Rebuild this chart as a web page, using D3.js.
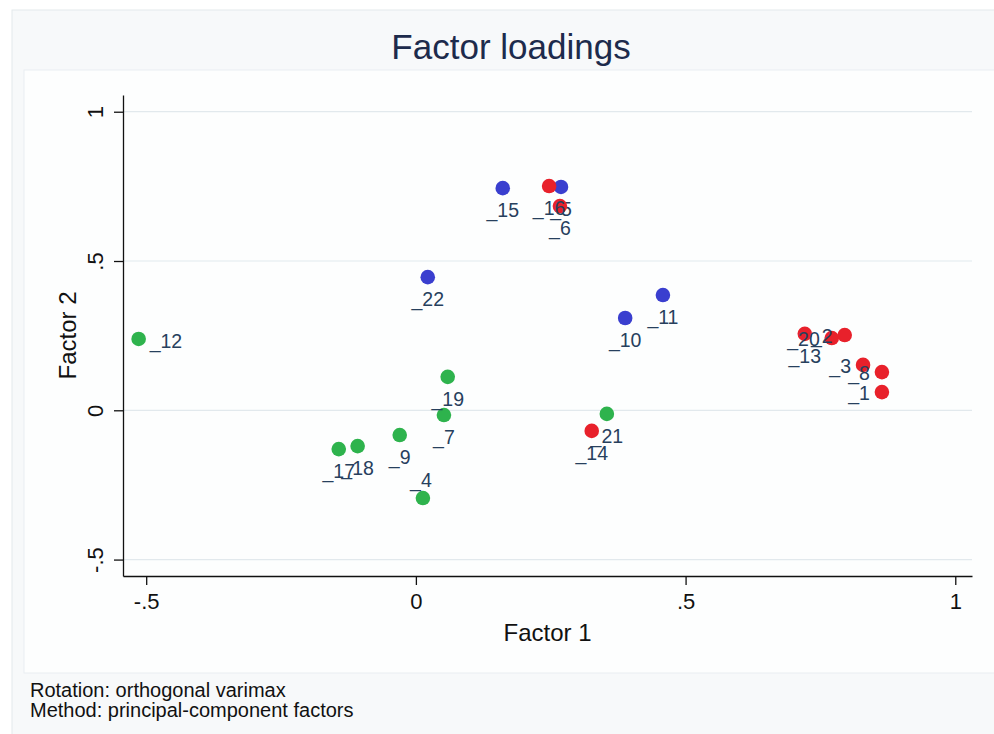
<!DOCTYPE html>
<html>
<head>
<meta charset="utf-8">
<script src="https://cdn.jsdelivr.net/npm/d3@7"></script>
<style>
  body { margin: 0; background: #ffffff; }
  svg { display: block; font-family: "Liberation Sans", Arial, Helvetica, sans-serif; }
</style>
</head>
<body>
<svg id="chart" width="994" height="734"></svg>
<script>
// Varimax-rotated loadings of the 22 items on the first two factors, by group
const blueNames = ["_15", "_5", "_22", "_10", "_11"];
const blueF1 = [0.161, 0.269, 0.022, 0.388, 0.458];
const blueF2 = [0.744, 0.748, 0.446, 0.309, 0.386];

const redNames = ["_16", "_6", "_14", "_13", "_20", "_2", "_3", "_8", "_1"];
const redF1 = [0.247, 0.267, 0.326, 0.721, 0.771, 0.795, 0.829, 0.864, 0.864];
const redF2 = [0.751, 0.684, -0.069, 0.256, 0.242, 0.252, 0.152, 0.128, 0.061];

const greenNames = ["_12", "_19", "_7", "_9", "_18", "_17", "_4", "_21"];
const greenF1 = [-0.514, 0.059, 0.052, -0.030, -0.108, -0.143, 0.013, 0.354];
const greenF2 = [0.239, 0.112, -0.016, -0.083, -0.120, -0.130, -0.294, -0.012];

// clock position of each marker label relative to its marker
const bluePos = [6, 6, 6, 6, 6];
const redPos = [6, 6, 6, 6, 9, 9, 9, 9, 9];
const greenPos = [3, 6, 6, 6, 6, 6, 12, 6];

const tickValues = [-0.5, 0, 0.5, 1];
const tickLabels = ["-.5", "0", ".5", "1"];

const series = [
  { names: blueNames, f1: blueF1, f2: blueF2, pos: bluePos, color: "#3a3fcf" },
  { names: redNames, f1: redF1, f2: redF2, pos: redPos, color: "#e8212b" },
  { names: greenNames, f1: greenF1, f2: greenF2, pos: greenPos, color: "#2eb34d" }
];

const svg = d3.select("#chart");

// graph region and plot region backgrounds
svg.append("rect").attr("x", 12).attr("y", 10).attr("width", 994).attr("height", 740)
  .attr("fill", "#f7f9fa").attr("stroke", "#e3e9ec").attr("stroke-width", 1);
svg.append("rect").attr("x", 24).attr("y", 70).attr("width", 980).attr("height", 603)
  .attr("fill", "#fdfefe").attr("stroke", "#e9eef1").attr("stroke-width", 1);

const x = d3.scaleLinear().domain([-0.543, 1.031]).range([123, 972]);
const y = d3.scaleLinear().domain([-0.555, 1.056]).range([576, 95]);

// horizontal grid lines at the y ticks
svg.append("g").selectAll("line").data(tickValues).join("line")
  .attr("x1", x.range()[0]).attr("x2", x.range()[1])
  .attr("y1", d => y(d)).attr("y2", d => y(d))
  .attr("stroke", "#e2e9ed").attr("stroke-width", 1.2);

// x axis
const xAxis = svg.append("g").attr("transform", `translate(0,${y.range()[0]})`)
  .call(d3.axisBottom(x).tickValues(tickValues).tickFormat((d, i) => tickLabels[i])
    .tickSizeInner(9).tickSizeOuter(0).tickPadding(8));
xAxis.attr("font-family", null);
xAxis.selectAll("text").attr("font-size", 22).attr("fill", "#111");
xAxis.selectAll("path, line").attr("stroke", "#111").attr("stroke-width", 1.3);

// y axis, labels turned to read upwards
const yAxis = svg.append("g").attr("transform", `translate(${x.range()[0]},0)`)
  .call(d3.axisLeft(y).tickValues(tickValues).tickFormat((d, i) => tickLabels[i])
    .tickSizeInner(9).tickSizeOuter(0));
yAxis.attr("font-family", null);
yAxis.selectAll("path, line").attr("stroke", "#111").attr("stroke-width", 1.3);
yAxis.selectAll("text")
  .attr("x", 0).attr("y", 0).attr("dy", "0.36em")
  .attr("text-anchor", "middle")
  .attr("transform", "translate(-28,0) rotate(-90)")
  .attr("font-size", 22).attr("fill", "#111");

// axis titles
svg.append("text").attr("x", (x.range()[0] + x.range()[1]) / 2).attr("y", 641)
  .attr("text-anchor", "middle").attr("font-size", 24).attr("fill", "#111").text("Factor 1");
svg.append("text")
  .attr("transform", `translate(67,${(y.range()[0] + y.range()[1]) / 2}) rotate(-90)`)
  .attr("dy", "0.36em").attr("text-anchor", "middle").attr("font-size", 24).attr("fill", "#111")
  .text("Factor 2");

// title
svg.append("text").attr("x", 511).attr("y", 59).attr("text-anchor", "middle")
  .attr("font-size", 35).attr("fill", "#1d2b4c").text("Factor loadings");

// notes
svg.append("text").attr("x", 30).attr("y", 697).attr("font-size", 20).attr("fill", "#111")
  .text("Rotation: orthogonal varimax");
svg.append("text").attr("x", 30).attr("y", 717).attr("font-size", 20).attr("fill", "#111")
  .text("Method: principal-component factors");

// marker label placement by clock position
function labelAttrs(pos, px, py) {
  if (pos === 9) return { x: px - 12, y: py + 8, anchor: "end" };
  if (pos === 3) return { x: px + 11, y: py + 9, anchor: "start" };
  if (pos === 12) return { x: px - 2, y: py - 11, anchor: "middle" };
  return { x: px, y: py + 29, anchor: "middle" };
}

series.forEach(s => {
  const pts = s.names.map((n, i) => ({ name: n, f1: s.f1[i], f2: s.f2[i], pos: s.pos[i] }));
  const g = svg.append("g");
  g.selectAll("circle").data(pts).join("circle")
    .attr("cx", d => x(d.f1)).attr("cy", d => y(d.f2)).attr("r", 7.3)
    .attr("fill", s.color);
  g.selectAll("text").data(pts).join("text")
    .each(function (d) {
      const a = labelAttrs(d.pos, x(d.f1), y(d.f2));
      d3.select(this).attr("x", a.x).attr("y", a.y).attr("text-anchor", a.anchor);
    })
    .attr("font-size", 19.5).attr("fill", "#27405d")
    .text(d => d.name);
});
</script>
</body>
</html>
